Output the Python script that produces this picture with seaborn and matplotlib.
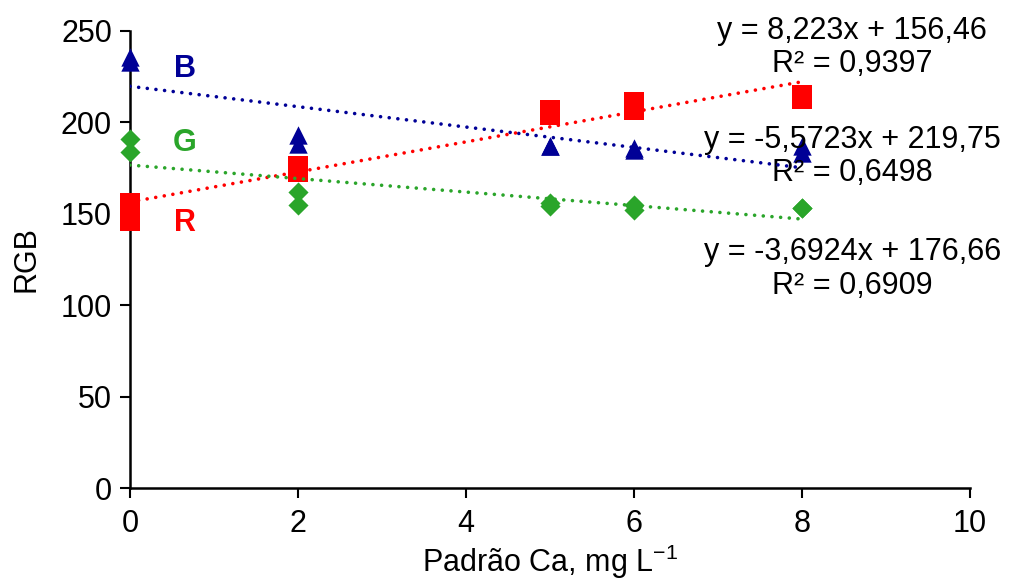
import numpy as np
import pandas as pd
import matplotlib
matplotlib.use("Agg")
import matplotlib.pyplot as plt
import seaborn as sns

# ---- data ----
conc = [0, 0, 2, 2, 5, 5, 6, 6, 8, 8]
r_vals = [156, 146, 176, 173, 207, 204, 211, 207, 215, 213]
g_vals = [191, 184, 162, 155, 156, 154, 155, 152, 153, 153]
b_vals = [236, 233, 193, 188, 187, 187, 186, 185, 187, 183]

# trendline coefficients (slope, intercept) and R² as printed in the chart
r_fit = (8.223, 156.46, "0,9397", "y = 8,223x + 156,46")
b_fit = (-5.5723, 219.75, "0,6498", "y = -5,5723x + 219,75")
g_fit = (-3.6924, 176.66, "0,6909", "y = -3,6924x + 176,66")

x_ticks = [0, 2, 4, 6, 8, 10]
y_ticks = [0, 50, 100, 150, 200, 250]

col_r = "#FF0000"
col_g = "#2AA52A"
col_b = "#000096"

sns.set_style("ticks")
plt.rcParams["font.family"] = ["Liberation Sans", "DejaVu Sans"]
plt.rcParams["text.color"] = "black"
plt.rcParams["axes.labelcolor"] = "black"
plt.rcParams["xtick.color"] = "black"
plt.rcParams["ytick.color"] = "black"

FS = 22

fig = plt.figure(figsize=(10.10, 5.85), dpi=100)
ax = fig.add_axes([130 / 1010, 1 - 488 / 585, 840 / 1010, (488 - 31) / 585])

df = pd.DataFrame({"x": conc, "R": r_vals, "G": g_vals, "B": b_vals})

sns.scatterplot(data=df, x="x", y="B", marker="^", s=175, color=col_b,
                linewidth=0, ax=ax, zorder=3, clip_on=False)
sns.scatterplot(data=df, x="x", y="R", marker="s", s=190, color=col_r,
                linewidth=0, ax=ax, zorder=3, clip_on=False)
sns.scatterplot(data=df, x="x", y="G", marker="D", s=105, color=col_g,
                linewidth=0, ax=ax, zorder=3, clip_on=False)

xr = np.array([min(conc), max(conc)], dtype=float)
for fit, col in [(b_fit, col_b), (r_fit, col_r), (g_fit, col_g)]:
    line_df = pd.DataFrame({"x": xr, "y": fit[0] * xr + fit[1]})
    sns.lineplot(data=line_df, x="x", y="y", color=col, ax=ax, zorder=4,
                 linewidth=2.6, linestyle=(0, (0.01, 2.4)),
                 dash_capstyle="round")

ax.set_xlim(0, 10)
ax.set_ylim(0, 250)
ax.set_xticks(x_ticks)
ax.set_yticks(y_ticks)
ax.tick_params(axis="both", labelsize=FS, length=7, width=1.5,
               direction="out")
ax.tick_params(axis="x", pad=8)
ax.tick_params(axis="y", pad=6)
for side in ["top", "right"]:
    ax.spines[side].set_visible(False)
for side in ["left", "bottom"]:
    ax.spines[side].set_linewidth(1.8)
    ax.spines[side].set_color("black")

ax.set_xlabel("Padrão Ca, mg L$^{\\mathregular{-1}}$", fontsize=FS, labelpad=3)
ax.set_ylabel("RGB", fontsize=FS, labelpad=14)

# series letters
ax.text(0.65, 229, "B", color=col_b, fontsize=FS, fontweight="bold",
        ha="center", va="center")
ax.text(0.65, 188.5, "G", color=col_g, fontsize=FS, fontweight="bold",
        ha="center", va="center")
ax.text(0.65, 145, "R", color=col_r, fontsize=FS, fontweight="bold",
        ha="center", va="center")

# equations
for fit, ypos in [(r_fit, 241), (b_fit, 181.3), (g_fit, 119.8)]:
    ax.text(8.6, ypos, f"{fit[3]}\nR² = {fit[2]}", fontsize=FS,
            ha="center", va="center", multialignment="center",
            linespacing=1.15, clip_on=False)

fig.savefig("out.png", dpi=100)
